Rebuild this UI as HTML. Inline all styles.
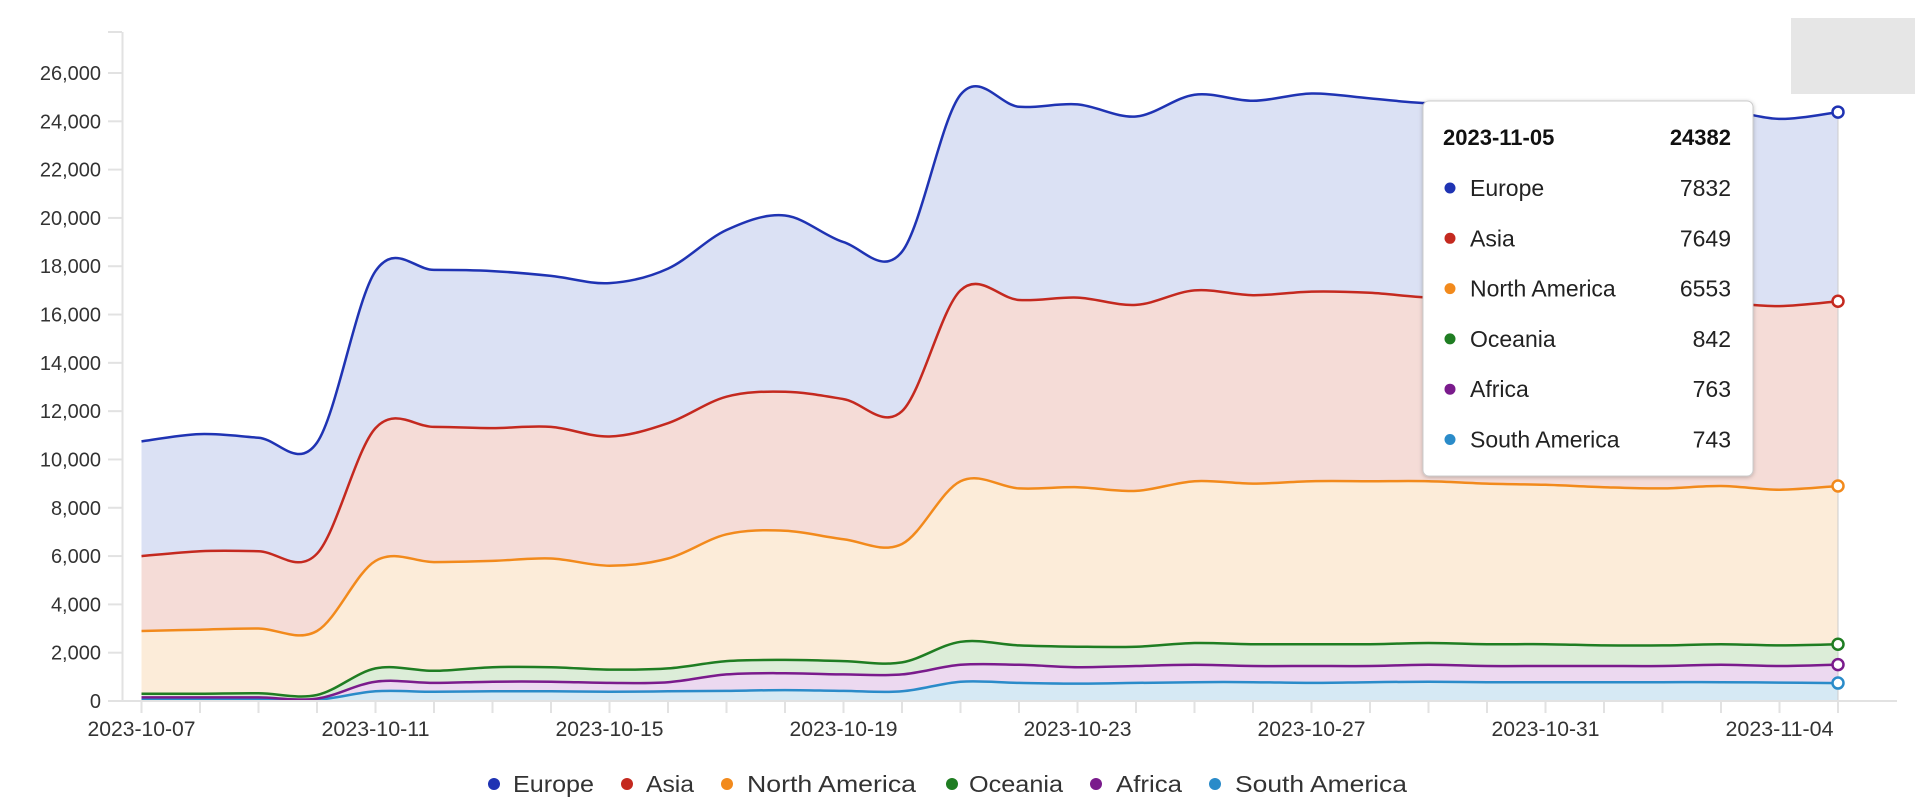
<!DOCTYPE html>
<html><head><meta charset="utf-8"><style>
html,body{margin:0;padding:0;background:#fff;width:1915px;height:812px;overflow:hidden}
svg{display:block}
text{font-family:"Liberation Sans",sans-serif}
</style></head><body>
<svg id="s" width="1915" height="812" xmlns="http://www.w3.org/2000/svg"></svg>
<script>
const E=[10750,11050,10900,10700,17800,17850,17800,17600,17300,17900,19500,20100,19000,18600,25100,24600,24700,24200,25100,24850,25150,24950,24750,24800,24800,24700,24600,24500,24100,24382];
const A=[6000,6200,6200,6100,11300,11350,11300,11350,10950,11500,12600,12800,12500,12000,17000,16600,16700,16400,17000,16800,16950,16900,16700,16700,16700,16600,16600,16500,16350,16550];
const N=[2900,2950,3000,2900,5800,5750,5800,5900,5600,5900,6900,7050,6700,6500,9100,8800,8850,8700,9100,9000,9100,9100,9100,9000,8950,8850,8800,8900,8750,8901];
const O=[300,300,320,250,1350,1250,1400,1400,1300,1350,1650,1700,1650,1600,2450,2300,2250,2250,2400,2350,2350,2350,2400,2350,2350,2300,2300,2350,2300,2348];
const F=[150,150,150,100,800,750,800,800,750,780,1100,1150,1100,1100,1500,1500,1400,1450,1500,1450,1450,1450,1500,1450,1450,1450,1450,1500,1450,1506];
const S=[80,80,80,50,400,380,400,400,380,400,420,450,420,400,800,750,720,750,780,780,750,780,800,780,780,780,780,780,760,743];
const X=i=>141.5+i*58.5, Y=v=>701-v/26000*628;
function pts(a){return a.map((v,i)=>[X(i),Y(v)]);}
function curve(p){let d='';for(let i=0;i<p.length-1;i++){const p0=p[Math.max(0,i-1)],p1=p[i],p2=p[i+1],p3=p[Math.min(p.length-1,i+2)];const t=0.5/3;
const c1=[p1[0]+(p2[0]-p0[0])*t,p1[1]+(p2[1]-p0[1])*t],c2=[p2[0]-(p3[0]-p1[0])*t,p2[1]-(p3[1]-p1[1])*t];
d+=` C${c1[0].toFixed(1)},${c1[1].toFixed(1)} ${c2[0].toFixed(1)},${c2[1].toFixed(1)} ${p2[0].toFixed(1)},${p2[1].toFixed(1)}`;}return d;}
function rev(p){return p.slice().reverse();}
const series=[[E,A,'#1f33b3','#dbe1f4'],[A,N,'#c4291f','#f5dcd7'],[N,O,'#f28a1c','#fcecd9'],[O,F,'#1f7d22','#dcedd8'],[F,S,'#7a1b8c','#ecd9f0'],[S,null,'#2a8bc9','#d6e9f4']];
let h='';
// axes
h+='<line x1="122.5" y1="32" x2="122.5" y2="701" stroke="#e2e2e2" stroke-width="2"/>';
h+='<line x1="108" y1="32" x2="122" y2="32" stroke="#e2e2e2" stroke-width="2"/>';
for(let k=0;k<=13;k++){const y=Y(k*2000);h+=`<line x1="108" y1="${y}" x2="122" y2="${y}" stroke="#e2e2e2" stroke-width="2"/>`;
h+=`<text x="101" y="${y+7}" font-size="20" fill="#333" text-anchor="end">${(k*2000).toLocaleString('en-US')}</text>`;}
// areas
for(const [top,bot,lc,fc] of series){const pt=pts(top);let d='M'+pt[0][0]+','+pt[0][1]+curve(pt);
if(bot){const pb=rev(pts(bot));d+=' L'+pb[0][0]+','+pb[0][1]+curve(pb)+'Z';}else d+=` L${X(29)},701 L${X(0)},701Z`;
h+=`<path d="${d}" fill="${fc}"/>`;}
for(const [top,bot,lc] of series.slice().reverse()){const pt=pts(top);h+=`<path d="M${pt[0][0]},${pt[0][1]}${curve(pt)}" fill="none" stroke="${lc}" stroke-width="2.5"/>`;}
h+=`<line x1="${X(29)}" y1="${Y(E[29])}" x2="${X(29)}" y2="701" stroke="#ccc" stroke-width="1"/>`;
for(const [top,bot,lc] of series){h+=`<circle cx="${X(29)}" cy="${Y(top[29])}" r="5.5" fill="#fff" stroke="${lc}" stroke-width="2.5"/>`;}
h+='<line x1="122" y1="701" x2="1897" y2="701" stroke="#e2e2e2" stroke-width="2"/>';
for(let i=0;i<30;i++){h+=`<line x1="${X(i)}" y1="701" x2="${X(i)}" y2="713" stroke="#e2e2e2" stroke-width="2"/>`;}
const labs=['2023-10-07','2023-10-11','2023-10-15','2023-10-19','2023-10-23','2023-10-27','2023-10-31','2023-11-04'];
labs.forEach((l,j)=>{h+=`<text x="${X(j*4)}" y="736" font-size="21" fill="#333" text-anchor="middle" textLength="108" lengthAdjust="spacingAndGlyphs">${l}</text>`;});
// gray box
h+='<rect x="1791" y="18" width="124" height="76" fill="#e6e6e6"/>';
// tooltip
h+='<defs><filter id="sh" x="-10%" y="-10%" width="120%" height="120%"><feDropShadow dx="0" dy="1" stdDeviation="2" flood-color="#000" flood-opacity="0.25"/></filter></defs>';
h+='<rect x="1423" y="101" width="330" height="375" rx="6" fill="#fff" stroke="#ccc" filter="url(#sh)"/>';
h+='<text x="1443" y="145" font-size="22" font-weight="bold" fill="#111">2023-11-05</text><text x="1731" y="145" font-size="22" font-weight="bold" fill="#111" text-anchor="end">24382</text>';
const tt=[['Europe','7832','#1f33b3'],['Asia','7649','#c4291f'],['North America','6553','#f28a1c'],['Oceania','842','#1f7d22'],['Africa','763','#7a1b8c'],['South America','743','#2a8bc9']];
tt.forEach((r,i)=>{const y=188+i*50.3;h+=`<circle cx="1450" cy="${y}" r="5.5" fill="${r[2]}"/><text x="1470" y="${y+8}" font-size="23" fill="#222">${r[0]}</text><text x="1731" y="${y+8}" font-size="23" fill="#222" text-anchor="end">${r[1]}</text>`;});
// legend
const lg=[[494,513,594],[627,646,694],[727,747,916],[952,969,1063],[1096,1116,1182],[1215,1235,1407]];
lg.forEach((g,i)=>{const r=tt[i];h+=`<circle cx="${g[0]}" cy="784" r="6" fill="${r[2]}"/><text x="${g[1]}" y="792" font-size="23" fill="#333" textLength="${g[2]-g[1]}" lengthAdjust="spacingAndGlyphs">${r[0]}</text>`;});
document.getElementById('s').innerHTML=h;
</script>
</body></html>
